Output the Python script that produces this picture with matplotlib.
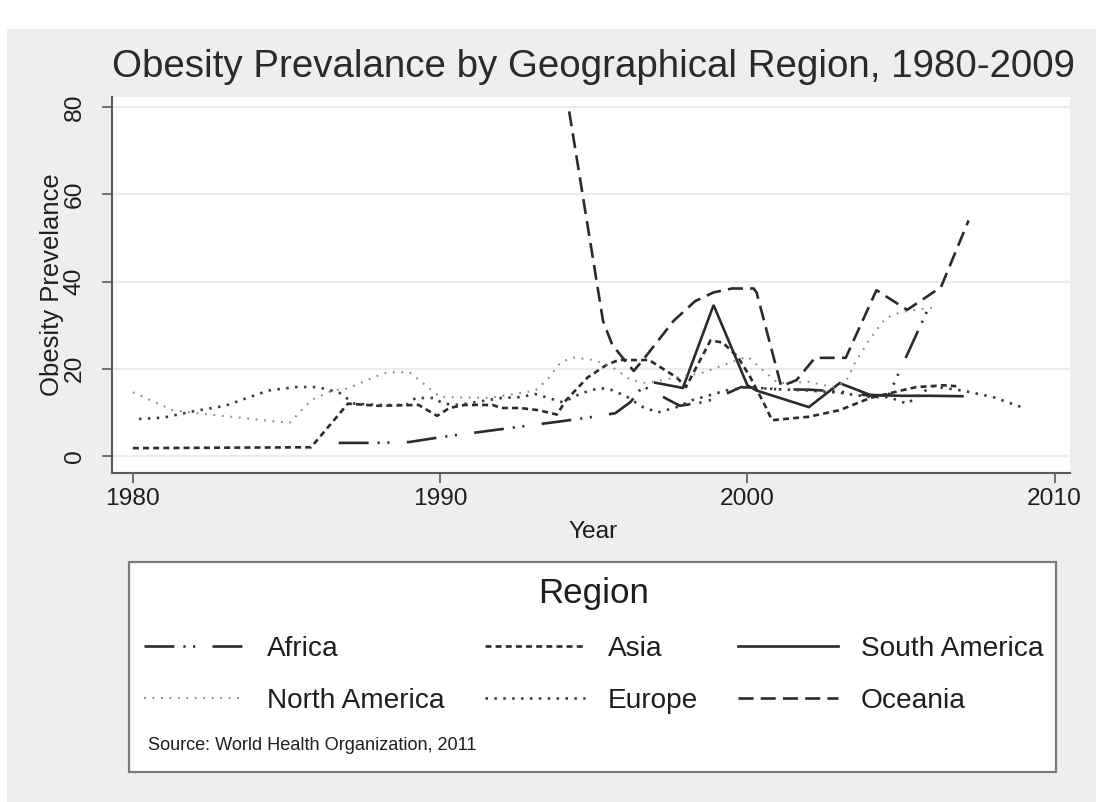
import matplotlib
matplotlib.use("Agg")
import matplotlib.pyplot as plt
from matplotlib import font_manager as fm
from matplotlib.patches import Rectangle

# ---------------------------------------------------------------- data
africa_year = [1986.7, 1987.7, 1989.0, 1990.0, 1994.2, 1995.0, 1995.7, 1996.2,
               1996.6, 1997.8, 1998.6, 1999.0, 1999.8, 2001.0, 2002.0, 2003.0,
               2004.0, 2004.6, 2005.9]
africa_val = [3.0, 3.0, 3.2, 4.3, 8.2, 9.0, 9.8, 12.4,
              16.0, 11.5, 12.4, 13.3, 15.8, 15.3, 15.2, 14.8,
              13.8, 14.0, 34.0]

asia_year = [1980.0, 1985.8, 1987.0, 1988.0, 1989.3, 1989.9, 1990.3, 1990.8,
             1991.7, 1992.0, 1992.6, 1993.2, 1993.8, 1994.1, 1994.8, 1995.4,
             1995.8, 1996.8, 1997.7, 1998.0, 1998.8, 1999.2, 1999.7, 2000.1,
             2000.6, 2000.8, 2002.0, 2003.0, 2004.0, 2005.0, 2005.5, 2006.4,
             2006.8]
asia_val = [1.8, 2.0, 12.0, 11.5, 11.7, 9.2, 11.0, 11.7,
            11.7, 11.0, 11.0, 10.5, 9.5, 12.8, 18.0, 20.8,
            22.0, 22.0, 18.0, 15.8, 26.5, 26.0, 22.6, 18.0,
            11.2, 8.2, 9.0, 10.5, 13.3, 15.0, 15.8, 16.2,
            16.0]

south_america_year = [1997.0, 1997.9, 1998.9, 2000.0, 2000.3, 2002.0, 2003.0,
                      2004.0, 2005.0, 2006.0, 2007.0]
south_america_val = [16.8, 15.6, 34.6, 16.2, 15.0, 11.2, 16.7,
                     14.0, 13.8, 13.8, 13.7]

north_america_year = [1980.0, 1980.7, 1981.3, 1982.1, 1983.6, 1984.5, 1985.1,
                      1985.8, 1986.5, 1987.0, 1987.5, 1988.0, 1988.3, 1989.0,
                      1990.0, 1991.6, 1993.1, 1993.5, 1993.9, 1994.3, 1995.0,
                      1995.6, 1996.2, 1996.7, 1997.7, 1998.5, 1999.4, 2000.0,
                      2000.5, 2001.0, 2002.0, 2002.8, 2003.2, 2003.5, 2004.0,
                      2004.5, 2005.0, 2006.0]
north_america_val = [14.6, 12.4, 10.5, 9.8, 8.7, 8.0, 7.6,
                     12.8, 15.0, 15.5, 17.0, 18.5, 19.2, 19.2,
                     13.5, 13.3, 15.0, 17.6, 21.3, 22.6, 22.0,
                     20.4, 17.4, 16.7, 18.0, 19.0, 21.3, 22.8,
                     19.7, 16.7, 17.0, 15.8, 17.0, 21.3, 27.0,
                     31.6, 33.0, 34.0]

europe_year = [1980.2, 1981.0, 1982.0, 1983.0, 1983.6, 1984.4, 1985.3, 1986.0,
               1986.7, 1987.2, 1988.0, 1988.9, 1989.2, 1989.8, 1990.1, 1990.6,
               1991.2, 1992.0, 1992.6, 1993.1, 1994.0, 1994.6, 1995.2, 1995.6,
               1996.1, 1996.6, 1997.1, 1997.7, 1998.2, 1998.8, 1999.3, 2000.0,
               2001.0, 2002.0, 2003.0, 2004.0, 2004.6, 2005.2, 2006.0, 2007.0,
               2008.0, 2009.0]
europe_val = [8.5, 8.8, 10.3, 11.5, 13.0, 15.0, 15.8, 15.8,
              14.6, 12.0, 11.7, 11.7, 13.3, 13.3, 12.0, 11.7,
              12.4, 13.3, 13.5, 14.2, 12.3, 14.4, 15.6, 15.1,
              13.5, 11.2, 10.0, 11.2, 12.8, 14.0, 15.0, 15.8,
              15.3, 15.0, 14.5, 13.5, 13.5, 12.0, 16.0, 15.0,
              13.5, 11.0]

oceania_year = [1994.2, 1995.3, 1995.6, 1996.0, 1996.3, 1996.6, 1997.6, 1998.3,
                1998.9, 1999.5, 2000.2, 2000.3, 2001.1, 2001.6, 2002.2, 2003.2,
                2004.2, 2005.2, 2006.3, 2007.2]
oceania_val = [79.0, 31.0, 25.5, 22.0, 19.5, 22.0, 31.0, 35.5,
               37.5, 38.4, 38.4, 37.5, 16.0, 17.4, 22.5, 22.5,
               38.0, 33.5, 38.7, 54.0]

x_ticks = [1980, 1990, 2000, 2010]
y_ticks = [0, 20, 40, 60, 80]

# ---------------------------------------------------------------- fonts
names = {f.name for f in fm.fontManager.ttflist}
if "Liberation Sans Narrow" in names:
    FONT, K = "Liberation Sans Narrow", 1.0
else:
    FONT, K = "Liberation Sans", 0.84
plt.rcParams["font.family"] = [FONT, "DejaVu Sans"]
plt.rcParams["lines.scale_dashes"] = False

W, H = 1096, 802
fig = plt.figure(figsize=(W / 100, H / 100), dpi=100, facecolor="white")


def fx(px):
    return px / W


def fy(py):
    return 1 - py / H


# light grey graph region
fig.patches.append(Rectangle((fx(7), 0), 1 - fx(7), fy(29), transform=fig.transFigure,
                             facecolor="#eeeeee", edgecolor="none", zorder=-10))

ax = fig.add_axes([fx(112), fy(473), fx(1070) - fx(112), fy(97) - fy(473)])
ax.set_facecolor("white")
ax.set_xlim(1979.32, 2010.5)
ax.set_ylim(-3.9, 82.3)

ink = "#2b2b2b"
styles = {
    "Africa": dict(color=ink, lw=1.9, dashes=(21.5, 6.5, 1.5, 5.5, 1.5, 12.5)),
    "Asia": dict(color=ink, lw=1.9, dashes=(4.3, 3.0)),
    "South America": dict(color=ink, lw=1.9, linestyle="-"),
    "North America": dict(color="#8c8c8c", lw=1.5, dashes=(1.3, 4.8)),
    "Europe": dict(color="#3c3c3c", lw=1.9, dashes=(1.8, 4.6)),
    "Oceania": dict(color=ink, lw=1.9, dashes=(10.8, 5.2)),
}
series = {
    "Africa": (africa_year, africa_val),
    "Asia": (asia_year, asia_val),
    "South America": (south_america_year, south_america_val),
    "North America": (north_america_year, north_america_val),
    "Europe": (europe_year, europe_val),
    "Oceania": (oceania_year, oceania_val),
}
lines = {}
for name, (xs, ys) in series.items():
    (ln,) = ax.plot(xs, ys, label=name, solid_joinstyle="miter", **styles[name])
    lines[name] = ln

# axes decoration
ax.set_xticks(x_ticks)
ax.set_yticks(y_ticks)
ax.grid(axis="y", color="#ececec", lw=1.6)
ax.set_axisbelow(True)
for side in ("top", "right"):
    ax.spines[side].set_visible(False)
for side in ("left", "bottom"):
    ax.spines[side].set_color("#5a5a5a")
    ax.spines[side].set_linewidth(1.5)
ax.tick_params(axis="both", direction="out", length=7, width=1.2, color="#5a5a5a",
               labelcolor="#1e1e1e", labelsize=21 * K)
ax.tick_params(axis="y", labelrotation=90, pad=12)
ax.tick_params(axis="x", pad=4)
for lab in ax.get_yticklabels():
    lab.set_verticalalignment("center")

ax.set_ylabel("Obesity Prevelance", fontsize=22 * K, color="#1e1e1e")
ax.yaxis.label.set_verticalalignment("center")
ax.yaxis.set_label_coords((52 - 112) / 958, 0.5)
ax.set_xlabel("Year", fontsize=21 * K, color="#1e1e1e")
ax.xaxis.label.set_verticalalignment("center")
ax.xaxis.set_label_coords((593 - 112) / 958, (473 - 532) / 376)

fig.text(fx(593), fy(77), "Obesity Prevalance by Geographical Region, 1980-2009",
         ha="center", va="baseline", fontsize=33 * K, color="#2a2a2a")

# legend box
fig.patches.append(Rectangle((fx(129), fy(772)), fx(1056) - fx(129), fy(562) - fy(772),
                             transform=fig.transFigure, facecolor="white",
                             edgecolor="#7a7a7a", lw=1.6, zorder=1))
order = ["Africa", "North America", "Asia", "Europe", "South America", "Oceania"]
leg_fs = 24 * K
leg = fig.legend([lines[n] for n in order], order, loc="upper left",
                 bbox_to_anchor=(fx(144), fy(577)), ncol=3, frameon=False,
                 title="Region", title_fontsize=30 * K, fontsize=leg_fs,
                 borderpad=0, borderaxespad=0, handlelength=72 / leg_fs,
                 handletextpad=16.6 / leg_fs, columnspacing=28.8 / leg_fs,
                 labelspacing=0.92)
leg.set_zorder(2)
for t in leg.get_texts():
    t.set_color("#1e1e1e")
leg.get_title().set_color("#1e1e1e")

fig.text(fx(148), fy(745), "Source: World Health Organization, 2011",
         ha="left", va="center", fontsize=15.5 * K, color="#1e1e1e", zorder=3)

fig.savefig("out.png", dpi=100, facecolor=fig.get_facecolor())
